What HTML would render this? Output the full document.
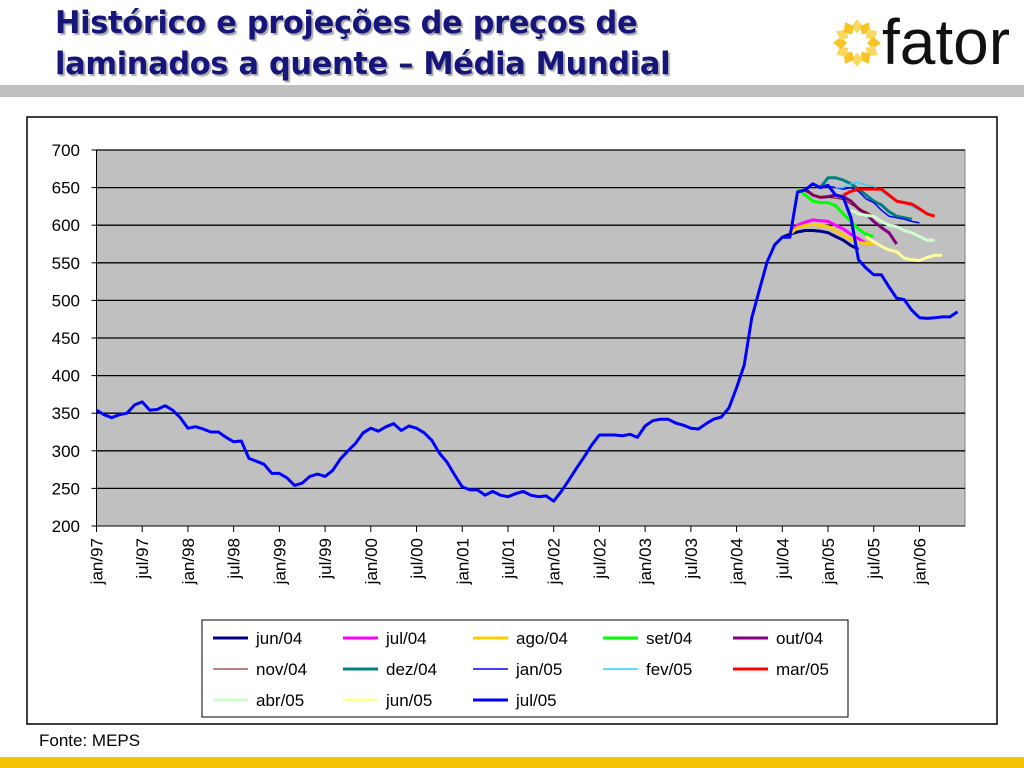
<!DOCTYPE html>
<html><head><meta charset="utf-8"><style>
body{margin:0;width:1024px;height:768px;overflow:hidden;background:#fff;font-family:"Liberation Sans",sans-serif;position:relative}
.title{position:absolute;left:55px;top:3px;font-family:"DejaVu Sans",sans-serif;font-weight:bold;font-size:31px;line-height:41px;color:#15157a;text-shadow:2px 2px 1px #aaa;letter-spacing:-0.3px;transform:scaleX(0.98);transform-origin:left top;white-space:nowrap}
</style></head><body>
<div class="title">Histórico e projeções de preços de<br>laminados a quente – Média Mundial</div>
<svg width="1024" height="100" style="position:absolute;left:0;top:0">
<g transform="translate(857,43)" id="sun"></g>
<text x="882" y="64" font-family="Liberation Sans" font-size="64" fill="#111">fator</text>
<rect x="0" y="85" width="1024" height="12" fill="#bfbfbf"/>
</svg>
<div style="position:absolute;left:0;top:757px;width:1024px;height:11px;background:#f5c400"></div>
<div style="position:absolute;left:39px;top:731px;font-size:17px">Fonte: MEPS</div>
<svg id="chart" width="1024" height="768" style="position:absolute;left:0;top:0"></svg>
<script>
const startLabels=["jan/97","jul/97","jan/98","jul/98","jan/99","jul/99","jan/00","jul/00","jan/01","jul/01","jan/02","jul/02","jan/03","jul/03","jan/04","jul/04","jan/05","jul/05","jan/06"];
const yTicks=[200,250,300,350,400,450,500,550,600,650,700];
const histJul05=[354,348,344,348,350,361,365,354,355,360,354,344,330,332,329,325,325,318,312,313,290,286,282,270,270,264,254,257,266,269,266,274,289,300,310,324,330,326,332,336,327,333,330,324,314,297,285,268,252,248,248,241,246,241,239,243,246,241,239,240,233,246,261,277,292,308,321,321,321,320,322,318,333,340,342,342,337,334,330,329,336,342,345,357,384,414,477,514,551,574,584,584,644,647,655,650,653,640,637,610,554,543,534,534,518,503,501,487,477,476,477,478,478,485];
const seriesNames=["jun/04","jul/04","ago/04","set/04","out/04","nov/04","dez/04","jan/05","fev/05","mar/05","abr/05","jun/05","jul/05"];
const seriesColors=["#000080","#ff00ff","#ffcc00","#00ff00","#800080","#800000","#008080","#0000ff","#33ccff","#ff0000","#ccffcc","#ffff99","#0000ff"];
const seriesWidths=[3,3,3,3,3,1,3,1.5,1.5,3,3,3,3];
const seriesStart=[90,91,91,92,93,93,95,96,97,98,99,101,0];
const seriesVals=[
[584,588,591,593,593,592,590,585,580,573,568],
[590,600,604,607,606,605,600,595,588,582,576,575],
[588,597,600,601,600,598,593,587,581,577,576,575],
[648,640,632,630,630,626,615,605,595,588,585],
[648,640,637,638,640,638,632,622,615,605,597,590,575],
[645,640,638,637,636,634,628,622,618,612,605],
[650,663,663,660,655,648,640,632,627,618,612,610,608],
[652,650,648,650,645,635,630,620,612,610,608,605,603],
[650,650,655,657,653,652,645,638,632,630,625,620,615],
[640,645,648,648,648,648,640,632,630,628,622,615,612],
[620,615,613,612,605,600,598,593,590,585,580,580],
[585,578,572,567,565,556,554,553,557,560,560],
histJul05];
const NS="http://www.w3.org/2000/svg";
const svg=document.getElementById('chart');
function mk(t,a,p){const e=document.createElementNS(NS,t);for(const k in a)e.setAttribute(k,a[k]);(p||svg).appendChild(e);return e;}
const X0=96.5,MW=7.62,Y0=526,YT=150;
const xS=m=>X0+m*MW, yS=v=>Y0-(v-200)*(Y0-YT)/500;
const sun=document.getElementById('sun');
for(let i=0;i<12;i++){const a=i*30;const p=mk('path',{d:'M0,-10 L6,-16 L0,-24 L-6,-16Z',fill:i%2?'#f7c325':'#fbd960',transform:'rotate('+a+')'},sun);

}
let r=mk('rect',{x:27,y:117,width:970,height:607,fill:'#fff',stroke:'#000','stroke-width':1.5});

r=mk('rect',{x:X0,y:YT,width:965-X0,height:Y0-YT,fill:'#c0c0c0',stroke:'#808080'});

yTicks.forEach(v=>{const y=yS(v);
if(v>200){const l=mk('line',{x1:X0,x2:965,y1:y,y2:y,stroke:'#000','stroke-width':1.3});}
mk('line',{x1:X0-5,x2:X0,y1:y,y2:y,stroke:'#000'});
const t=mk('text',{x:80,y:y+6,'text-anchor':'end','font-size':17});t.textContent=v;
});
mk('line',{x1:X0,x2:X0,y1:YT,y2:Y0,stroke:'#000'});
mk('line',{x1:X0,x2:965,y1:Y0,y2:Y0,stroke:'#000'});
startLabels.forEach((s,i)=>{const x=xS(i*6);
mk('line',{x1:x,x2:x,y1:Y0,y2:Y0+6,stroke:'#000'});
const t=mk('text',{x:0,y:0,'text-anchor':'end','font-size':17,transform:'translate('+(x+6)+',538) rotate(-90)'});t.textContent=s;
});
seriesVals.forEach((vals,k)=>{const pts=vals.map((v,i)=>xS(seriesStart[k]+i).toFixed(1)+','+yS(v).toFixed(1)).join(' ');
const p=mk('polyline',{points:pts,fill:'none',stroke:seriesColors[k],'stroke-width':seriesWidths[k],'stroke-linejoin':'round'});

});
r=mk('rect',{x:202,y:620,width:646,height:97,fill:'#fff',stroke:'#000'});

const colX=[213,343,473,603,733];
seriesNames.forEach((n,k)=>{const c=k%5,rw=Math.floor(k/5);const x=colX[c],y=638+rw*31;
const g=mk('g',{});
mk('line',{x1:x,x2:x+35,y1:y,y2:y,stroke:seriesColors[k],'stroke-width':seriesWidths[k]},g);
const t=mk('text',{x:x+43,y:y+6,'font-size':17},g);t.textContent=n;});
</script>
</body></html>
